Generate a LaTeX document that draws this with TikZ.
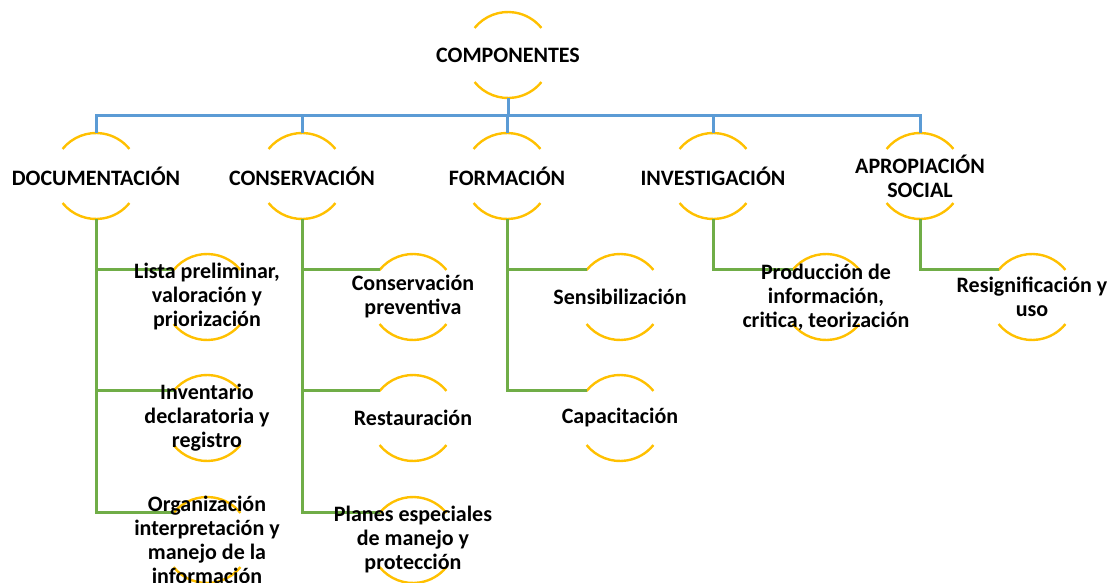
\documentclass[tikz,border=0pt]{standalone}
\usepackage{fontspec}
\setmainfont{Carlito}
\usetikzlibrary{backgrounds}

\definecolor{ringgold}{RGB}{255,192,0}
\definecolor{busblue}{RGB}{91,155,213}
\definecolor{branchgreen}{RGB}{112,173,71}

\begin{document}
\begin{tikzpicture}[x=1pt,y=1pt,
        item/.style={align=center,inner sep=0pt,text=black,
                     font=\fontsize{22}{24}\selectfont\bfseries},
        ring/.style={ringgold,line width=2.4pt},
        bus/.style={busblue,line width=3pt},
        branch/.style={branchgreen,line width=3pt}]

  \useasboundingbox (0,0) rectangle (1108,-583);

  % root and first level
  \node[item] (comp) at (508,-55)  {COMPONENTES};
  \node[item] (doc)  at (96,-176)  {DOCUMENTACIÓN};
  \node[item] (cons) at (302,-176) {CONSERVACIÓN};
  \node[item] (form) at (507,-176) {FORMACIÓN};
  \node[item] (inv)  at (713,-176) {INVESTIGACIÓN};
  \node[item] (apro) at (920,-176) {APROPIACIÓN\\SOCIAL};

  % second level
  \node[item] (lista)  at (207,-297)  {Lista preliminar,\\valoración y\\priorización};
  \node[item] (invent) at (207,-418)  {Inventario\\declaratoria y\\registro};
  \node[item] (organ)  at (207,-540)  {Organización\\interpretación y\\manejo de la\\información};
  \node[item] (cprev)  at (413,-297)  {Conservación\\preventiva};
  \node[item] (rest)   at (413,-418)  {Restauración};
  \node[item] (planes) at (413,-540)  {Planes especiales\\de manejo y\\protección};
  \node[item] (sens)   at (620,-297)  {Sensibilización};
  \node[item] (capac)  at (620,-418)  {Capacitación};
  \node[item] (prod)   at (826,-297)  {Producción de\\información,\\critica, teorización};
  \node[item] (resig)  at (1032,-297) {Resignificación y\\uso};

  \begin{scope}[on background layer]
    % the two arcs round every item
    \foreach \n in {comp,doc,cons,form,inv,apro,lista,invent,organ,
                    cprev,rest,planes,sens,capac,prod,resig} {
      \draw[ring] ([shift={(141:43pt)}]\n.center) arc (141:39:43pt);
      \draw[ring] ([shift={(219:43pt)}]\n.center) arc (219:321:43pt);
    }

    % blue bus under the root
    \draw[bus] ([yshift=-43pt]comp.center) -- ++(0,-18) coordinate (hub);
    \foreach \n in {doc,cons,form,inv,apro}
      \draw[bus] (hub) -| ([yshift=43pt]\n.center);

    % green branches
    \foreach \p/\c in {doc/lista,doc/invent,doc/organ,
                       cons/cprev,cons/rest,cons/planes,
                       form/sens,form/capac,inv/prod,apro/resig}
      \draw[branch] ([yshift=-43pt]\p.center) |- ([shift={(141:43pt)}]\c.center);
  \end{scope}

\end{tikzpicture}
\end{document}
